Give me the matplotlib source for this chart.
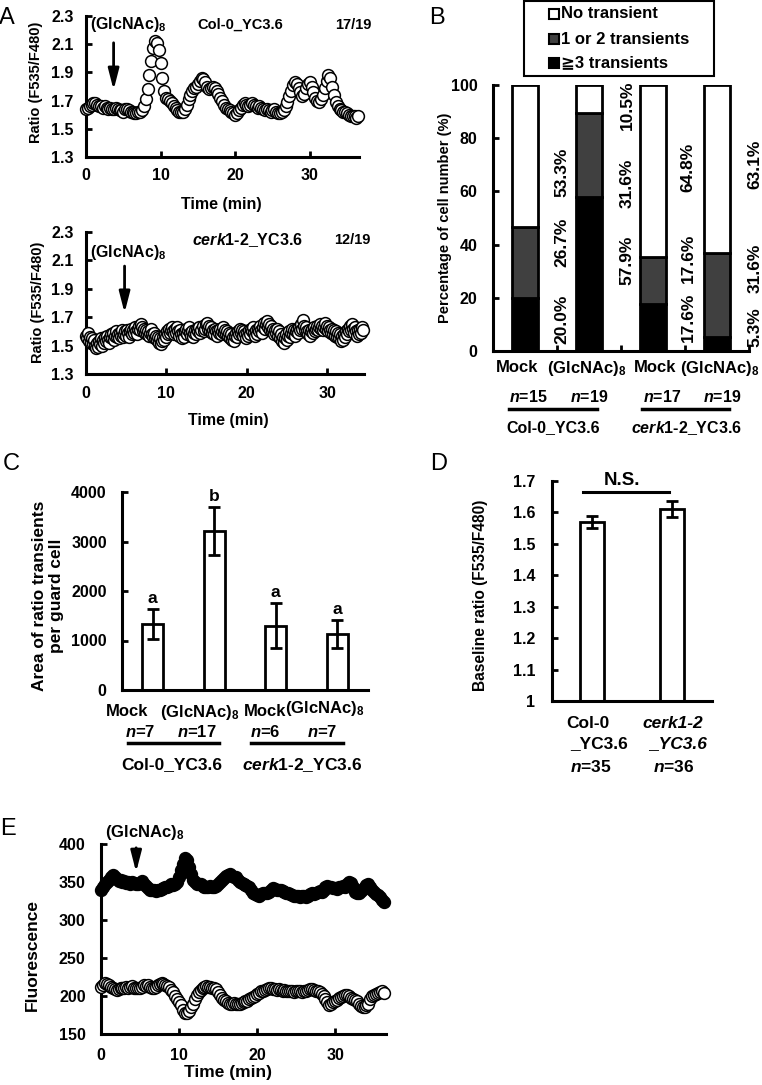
import numpy as np
import matplotlib
matplotlib.use("Agg")
import matplotlib.pyplot as plt
from matplotlib.patches import Rectangle
from matplotlib.lines import Line2D
from matplotlib.ticker import FormatStrFormatter, FuncFormatter

plt.rcParams.update({
    "font.family": ["Liberation Sans", "DejaVu Sans"],
    "font.weight": "bold",
    "mathtext.fontset": "custom",
    "mathtext.rm": "Liberation Sans:bold",
    "mathtext.it": "Liberation Sans:italic:bold",
    "mathtext.bf": "Liberation Sans:bold",
})

# ---- data ----
step = 0.25       # sampling interval (min)
step_fine = 0.125

# A, Col-0_YC3.6 ratio trace
ratio_col0 = [
    1.64, 1.65, 1.66, 1.67, 1.68, 1.68, 1.67, 1.66, 1.66, 1.65,
    1.66, 1.65, 1.64, 1.65, 1.64, 1.64, 1.65, 1.64, 1.63, 1.63,
    1.62, 1.64, 1.64, 1.63, 1.62, 1.62, 1.61, 1.61, 1.62, 1.62,
    1.63, 1.66, 1.71, 1.78, 1.88, 1.98, 2.07, 2.12, 2.11, 2.06,
    1.97, 1.86, 1.77, 1.72, 1.71, 1.70, 1.68, 1.66, 1.65, 1.63,
    1.62, 1.62, 1.62, 1.64, 1.67, 1.71, 1.74, 1.77, 1.79, 1.80,
    1.82, 1.84, 1.86, 1.85, 1.83, 1.80, 1.78, 1.79, 1.80, 1.79,
    1.77, 1.75, 1.72, 1.70, 1.67, 1.65, 1.64, 1.63, 1.62, 1.61,
    1.60, 1.61, 1.63, 1.65, 1.67, 1.68, 1.67, 1.66, 1.67, 1.68,
    1.67, 1.66, 1.65, 1.66, 1.65, 1.64, 1.63, 1.64, 1.63, 1.62,
    1.63, 1.64, 1.62, 1.61, 1.61, 1.62, 1.63, 1.66, 1.69, 1.73,
    1.77, 1.81, 1.83, 1.82, 1.79, 1.76, 1.73, 1.75, 1.79, 1.82,
    1.83, 1.80, 1.76, 1.72, 1.70, 1.69, 1.71, 1.74, 1.79, 1.84,
    1.88, 1.86, 1.80, 1.74, 1.69, 1.66, 1.64, 1.63, 1.62, 1.62,
    1.61, 1.60, 1.59, 1.59, 1.59, 1.58, 1.59,
]

# A, cerk1-2_YC3.6 ratio trace (finer sampling)
ratio_cerk = [
    1.57, 1.55, 1.59, 1.53, 1.56, 1.52, 1.55, 1.51, 1.54, 1.50,
    1.48, 1.52, 1.49, 1.53, 1.51, 1.55, 1.50, 1.54, 1.52, 1.56,
    1.53, 1.57, 1.54, 1.52, 1.56, 1.58, 1.55, 1.59, 1.54, 1.57,
    1.60, 1.56, 1.58, 1.55, 1.59, 1.57, 1.61, 1.56, 1.58, 1.60,
    1.57, 1.61, 1.59, 1.56, 1.60, 1.62, 1.58, 1.61, 1.59, 1.63,
    1.60, 1.58, 1.62, 1.64, 1.61, 1.65, 1.63, 1.60, 1.62, 1.59,
    1.61, 1.58, 1.60, 1.57, 1.59, 1.62, 1.58, 1.56, 1.59, 1.55,
    1.57, 1.54, 1.56, 1.52, 1.55, 1.51, 1.53, 1.56, 1.54, 1.58,
    1.56, 1.60, 1.58, 1.62, 1.59, 1.61, 1.63, 1.60, 1.58, 1.62,
    1.59, 1.63, 1.60, 1.57, 1.61, 1.58, 1.55, 1.59, 1.56, 1.60,
    1.62, 1.58, 1.61, 1.63, 1.59, 1.57, 1.60, 1.56, 1.59, 1.61,
    1.58, 1.62, 1.60, 1.63, 1.59, 1.61, 1.64, 1.60, 1.62, 1.65,
    1.66, 1.62, 1.64, 1.60, 1.63, 1.59, 1.61, 1.58, 1.62, 1.60,
    1.57, 1.61, 1.59, 1.62, 1.58, 1.60, 1.63, 1.59, 1.61, 1.58,
    1.60, 1.57, 1.59, 1.55, 1.58, 1.54, 1.56, 1.53, 1.57, 1.59,
    1.56, 1.60, 1.58, 1.62, 1.59, 1.61, 1.57, 1.60, 1.58, 1.55,
    1.59, 1.57, 1.61, 1.58, 1.62, 1.60, 1.63, 1.59, 1.57, 1.61,
    1.58, 1.62, 1.60, 1.64, 1.61, 1.59, 1.63, 1.66, 1.62, 1.65,
    1.67, 1.63, 1.65, 1.61, 1.64, 1.60, 1.62, 1.58, 1.61, 1.59,
    1.62, 1.57, 1.60, 1.55, 1.58, 1.53, 1.56, 1.52, 1.55, 1.58,
    1.54, 1.57, 1.60, 1.56, 1.59, 1.62, 1.58, 1.61, 1.57, 1.60,
    1.62, 1.59, 1.63, 1.61, 1.65, 1.62, 1.68, 1.64, 1.61, 1.63,
    1.60, 1.58, 1.61, 1.57, 1.60, 1.62, 1.59, 1.63, 1.60, 1.62,
    1.64, 1.61, 1.63, 1.65, 1.62, 1.64, 1.61, 1.63, 1.66, 1.62,
    1.64, 1.60, 1.63, 1.61, 1.59, 1.62, 1.58, 1.61, 1.57, 1.60,
    1.56, 1.59, 1.55, 1.58, 1.53, 1.57, 1.54, 1.58, 1.56, 1.60,
    1.58, 1.62, 1.60, 1.64, 1.61, 1.65, 1.62, 1.59, 1.63, 1.60,
    1.57, 1.61, 1.58, 1.62, 1.59, 1.63, 1.61,
]

# B, percentage of cells
b_groups = ["Mock", "(GlcNAc)$_\\mathbf{8}$", "Mock", "(GlcNAc)$_\\mathbf{8}$"]
b_n = [15, 19, 17, 19]
b_three = [20.0, 57.9, 17.6, 5.3]
b_onetwo = [26.7, 31.6, 17.6, 31.6]
b_none = [53.3, 10.5, 64.8, 63.1]
b_legend = ["No transient", "1 or 2 transients", "\u22673 transients"]

# C, area of ratio transients
c_mean = [1340, 3210, 1300, 1130]
c_err = [300, 485, 455, 285]
c_letters = ["a", "b", "a", "a"]
c_n = [7, 17, 6, 7]

# D, baseline ratio
d_mean = [1.57, 1.61]
d_err = [0.02, 0.025]
d_n = [35, 36]

# E, fluorescence traces
fluo_535 = [
    340, 343, 347, 350, 353, 356, 359, 357, 354, 351,
    352, 350, 351, 349, 350, 348, 350, 349, 347, 348,
    349, 351, 348, 345, 342, 340, 339, 340, 338, 339,
    339, 341, 342, 344, 343, 345, 347, 346, 348, 350,
    356, 366, 374, 381, 379, 370, 360, 353, 350, 348,
    348, 347, 345, 344, 343, 344, 345, 343, 344, 345,
    347, 350, 352, 355, 358, 359, 360, 358, 357, 356,
    353, 350, 349, 347, 346, 345, 343, 339, 336, 334,
    333, 332, 334, 335, 336, 335, 337, 339, 342, 341,
    340, 339, 340, 338, 337, 335, 336, 334, 333, 332,
    331, 332, 330, 331, 331, 330, 332, 334, 335, 334,
    336, 337, 338, 337, 340, 343, 345, 344, 343, 342,
    342, 341, 343, 344, 345, 344, 347, 350, 349, 343,
    337, 336, 335, 338, 341, 344, 346, 348, 344, 339,
    337, 334, 333, 330, 326, 324,
]
fluo_480 = [
    212, 215, 217, 216, 214, 212, 210, 209, 208, 209,
    210, 211, 210, 212, 211, 212, 213, 211, 210, 211,
    210, 212, 214, 213, 214, 212, 211, 210, 212, 214,
    216, 217, 216, 214, 213, 212, 208, 205, 200, 196,
    192, 188, 182, 178, 177, 180, 185, 190, 196, 201,
    205, 208, 211, 212, 213, 212, 212, 211, 210, 209,
    205, 201, 198, 195, 193, 191, 190, 190, 191, 190,
    189, 190, 191, 192, 193, 194, 196, 198, 199, 200,
    202, 204, 206, 207, 208, 209, 210, 210, 209, 209,
    208, 209, 208, 207, 208, 207, 206, 207, 206, 205,
    206, 207, 206, 205, 206, 207, 208, 209, 209, 208,
    207, 206, 205, 203, 200, 196, 192, 188, 190, 192,
    193, 195, 197, 199, 200, 201, 201, 200, 198, 196,
    195, 193, 190, 187, 185, 186, 188, 190, 196, 200,
    201, 203, 204, 205, 206, 204,
]

# ---- figure ----
W, H = 762, 1085
fig = plt.figure(figsize=(W / 100, H / 100), dpi=100)
GLC = "(GlcNAc)$_\\mathbf{8}$"
CERK = "$\\mathit{cerk1}$-$\\mathit{2}$_YC3.6"


def add_ax(l, t, r, b):
    return fig.add_axes([l / W, 1 - b / H, (r - l) / W, (b - t) / H])


def style(ax, ypad=8, xpad=8):
    for s in ["top", "right"]:
        ax.spines[s].set_visible(False)
    for s in ["left", "bottom"]:
        ax.spines[s].set_linewidth(2.2)
    ax.tick_params(direction="in", length=4, width=2, labelsize=11.5)
    ax.tick_params(axis="y", pad=ypad)
    ax.tick_params(axis="x", pad=xpad)


def ftext(x, y, s, **kw):
    kw.setdefault("ha", "center")
    kw.setdefault("va", "center")
    kw.setdefault("fontsize", 10.5)
    fig.text(x / W, 1 - y / H, s, **kw)


def fline(x1, x2, y, lw=2.5):
    fig.add_artist(Line2D([x1 / W, x2 / W], [1 - y / H, 1 - y / H],
                          transform=fig.transFigure, color="black", lw=lw))


def arrow(ax, t, y0, y1):
    ax.annotate("", xy=(t, y1), xytext=(t, y0),
                arrowprops=dict(arrowstyle="-|>,head_width=0.18,head_length=0.7",
                                lw=2, color="black", shrinkA=0, shrinkB=0,
                                mutation_scale=18))


circ = dict(marker="o", ls="none", ms=8.5, mew=1.1, mec="black",
            clip_on=False, zorder=3)

# panel letters
for lab, x, y in [("A", 7, 18), ("B", 437, 18), ("C", 11, 464),
                  ("D", 439, 464), ("E", 8, 829)]:
    ftext(x, y, lab, fontsize=17, fontweight="normal")

# ---- A top ----
ax = add_ax(86, 16, 359, 157)
t = np.arange(len(ratio_col0)) * step
ax.plot(t, ratio_col0, mfc="white", **circ)
ax.set_xlim(0, 36.6)
ax.set_ylim(1.3, 2.3)
ax.set_yticks(np.arange(1.3, 2.31, 0.2))
ax.yaxis.set_major_formatter(FormatStrFormatter("%.1f"))
ax.set_xticks([0, 10, 20, 30])
style(ax, ypad=9, xpad=8)
arrow(ax, 3.7, 2.11, 1.775)
ftext(90, 25, GLC, ha="left", fontsize=11.5)
ftext(240, 25, "Col-0_YC3.6")
ftext(353, 25, "17/19")
ftext(36, 82, "Ratio (F535/F480)", rotation=90)
ftext(221, 205, "Time (min)", fontsize=11.5)

# ---- A bottom ----
ax = add_ax(86, 232, 364, 374)
t = np.arange(len(ratio_cerk)) * step_fine
ax.plot(t, ratio_cerk, mfc="white", **circ)
ax.set_xlim(0, 34.6)
ax.set_ylim(1.3, 2.3)
ax.set_yticks(np.arange(1.3, 2.31, 0.2))
ax.yaxis.set_major_formatter(FormatStrFormatter("%.1f"))
ax.set_xticks([0, 10, 20, 30])
style(ax, ypad=9, xpad=9)
arrow(ax, 4.8, 2.06, 1.73)
ftext(90, 252, GLC, ha="left", fontsize=11.5)
ftext(247, 240, CERK, fontsize=11.5)
ftext(352, 240, "12/19")
ftext(38, 302, "Ratio (F535/F480)", rotation=90)
ftext(228, 420, "Time (min)", fontsize=11.5)

# ---- B ----
ax = add_ax(493, 85, 749, 351)
x = np.arange(4) + 0.5
kw = dict(width=0.42, edgecolor="black", linewidth=2, zorder=2)
ax.bar(x, b_three, color="black", **kw)
ax.bar(x, b_onetwo, bottom=b_three, color="#404040", **kw)
ax.bar(x, b_none, bottom=np.add(b_three, b_onetwo), color="white", **kw)
ax.set_xlim(0, 4)
ax.set_ylim(0, 100)
ax.set_yticks(range(0, 101, 20))
ax.set_xticks([1, 2, 3, 4])
ax.set_xticklabels([])
style(ax, ypad=11)
label_x = [562, 627, 688, 755]
label_y = [[12, 41, 67], [34, 63, 92.5], [12.5, 35, 69], [9, 31, 70]]
for i in range(4):
    vals = [b_three[i], b_onetwo[i], b_none[i]]
    for v, yy in zip(vals, label_y[i]):
        ftext(label_x[i], 351 - yy * 2.66, f"{v:.1f}%", rotation=90,
              fontsize=12.5)
ftext(445, 218, "Percentage of cell number (%)", rotation=90)
for lab, xx in zip(b_groups, [517, 587, 655, 720]):
    ftext(xx, 368, lab, fontsize=12)
for nn, xx in zip(b_n, [528, 589, 662, 722]):
    ftext(xx, 397, f"$\\mathit{{n}}$={nn}", fontsize=11.5)
fline(509, 597, 409)
fline(642, 729, 409)
ftext(553, 428, "Col-0_YC3.6", fontsize=11.5)
ftext(686, 428, CERK, fontsize=11.5)

# legend box for B
fig.add_artist(Rectangle((524 / W, 1 - 76 / H), 190 / W, 75 / H,
                         transform=fig.transFigure, facecolor="white",
                         edgecolor="black", lw=1.5))
for lab, col, yy in zip(b_legend, ["white", "#404040", "black"], [14, 39, 63]):
    fig.add_artist(Rectangle((549 / W, 1 - (yy + 5) / H), 10 / W, 10 / H,
                             transform=fig.transFigure, facecolor=col,
                             edgecolor="black", lw=1.5))
    ftext(561, yy, lab, ha="left", fontsize=12)

# ---- C ----
ax = add_ax(122, 492, 368, 690)
x = np.arange(4) + 0.5
ax.bar(x, c_mean, width=0.34, color="white", edgecolor="black", linewidth=2)
ax.errorbar(x, c_mean, yerr=c_err, fmt="none", ecolor="black",
            elinewidth=2, capsize=4, capthick=2)
for xi, m, e, lt in zip(x, c_mean, c_err, c_letters):
    ax.text(xi, m + e + 60, lt, ha="center", va="bottom", fontsize=12.5)
ax.set_xlim(0, 4)
ax.set_ylim(0, 4000)
ax.set_yticks(range(0, 4001, 1000))
ax.set_xticks([])
style(ax, ypad=11)
ftext(48, 596, "Area of ratio transients\nper guard cell", rotation=90,
      linespacing=1.1, fontsize=12.5)
for lab, xx, yy in zip(b_groups, [127, 200, 265, 325], [712, 712, 712, 708]):
    ftext(xx, yy, lab, fontsize=12)
for nn, xx in zip(c_n, [140, 197, 265, 322]):
    ftext(xx, 732, f"$\\mathit{{n}}$={nn}", fontsize=12)
fline(128, 219, 743)
fline(251, 343, 743)
ftext(172, 765, "Col-0_YC3.6", fontsize=12.5)
ftext(302, 765, CERK, fontsize=12.5)

# ---- D ----
ax = add_ax(552, 481, 712, 701)
x = np.arange(2) + 0.5
ax.bar(x, d_mean, width=0.31, color="white", edgecolor="black", linewidth=2)
ax.errorbar(x, d_mean, yerr=d_err, fmt="none", ecolor="black",
            elinewidth=2, capsize=4, capthick=2)
ax.set_xlim(0, 2)
ax.set_ylim(1, 1.7)
ax.set_yticks(np.round(np.arange(1, 1.71, 0.1), 1))
ax.yaxis.set_major_formatter(
    FuncFormatter(lambda v, p: f"{v:.1f}".rstrip("0").rstrip(".")))
ax.set_xticks([])
style(ax, ypad=12)
fline(583, 669, 492, lw=2.2)
ftext(622, 480, "N.S.", fontsize=13.5)
ftext(480, 595, "Baseline ratio (F535/F480)", rotation=90, fontsize=11.2)
ftext(588, 723, "Col-0", fontsize=12.5)
ftext(599, 744, "_YC3.6", fontsize=12.5)
ftext(591, 767, f"$\\mathit{{n}}$={d_n[0]}", fontsize=12.5)
ftext(673, 723, "cerk1-2", style="italic", fontsize=12.5)
ftext(678, 744, "_YC3.6", style="italic", fontsize=12.5)
ftext(674, 767, f"$\\mathit{{n}}$={d_n[1]}", fontsize=12.5)

# ---- E ----
ax = add_ax(101, 844, 386, 1034)
t = np.arange(len(fluo_535)) * step
ax.plot(t, fluo_535, mfc="black", **circ)
t = np.arange(len(fluo_480)) * step
ax.plot(t, fluo_480, mfc="white", **circ)
ax.set_xlim(0, 36.5)
ax.set_ylim(150, 400)
ax.set_yticks(range(150, 401, 50))
ax.set_xticks([0, 10, 20, 30])
style(ax, ypad=11, xpad=10)
arrow(ax, 4.5, 395, 363)
ftext(145, 832, GLC, fontsize=12)
ftext(32, 955, "Fluorescence", rotation=90, fontsize=12.5)
ftext(228, 1073, "Time (min)", fontsize=12.5)

fig.savefig("out.png", dpi=100)
